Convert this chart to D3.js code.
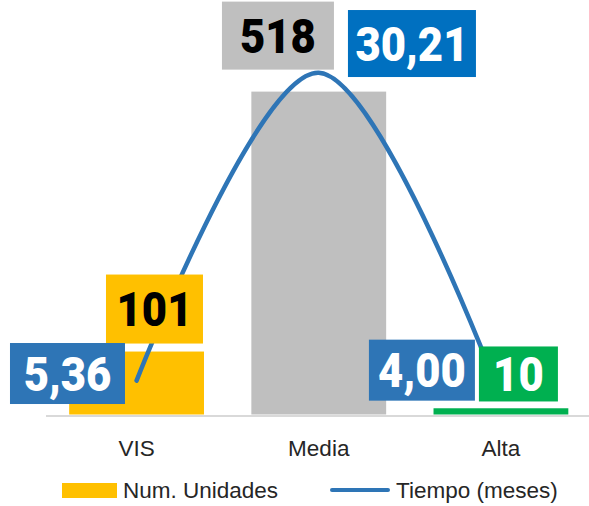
<!DOCTYPE html>
<html>
<head>
<meta charset="utf-8">
<script src="https://cdn.jsdelivr.net/npm/d3@7"></script>
<style>
  html, body { margin: 0; padding: 0; background: #ffffff; }
  svg { display: block; }
</style>
</head>
<body>
<div id="chart"></div>
<script>
// Categories and series values
const categories = ["VIS", "Media", "Alta"];
const unidades = [101, 518, 10];
const tiempo = [5.36, 30.21, 4.00];
const seriesNames = ["Num. Unidades", "Tiempo (meses)"];

// Styling
const barColors = ["#FFC000", "#BFBFBF", "#00B050"];
const lineColor = "#2E75B6";
const unidadesLabelStyle = [
  { fill: "#FFC000", text: "#000000" },
  { fill: "#BFBFBF", text: "#000000" },
  { fill: "#00B050", text: "#FFFFFF" }
];
const tiempoLabelStyle = [
  { fill: "#2E75B6", text: "#FFFFFF" },
  { fill: "#0070C0", text: "#FFFFFF" },
  { fill: "#2E75B6", text: "#FFFFFF" }
];
// Label boxes, placed relative to each mark's anchor point: [dx, dy, width, height]
const unidadesLabelBox = [[-30.6, -77, 97, 69], [-96.8, -90, 112, 68], [-22, -61.8, 79, 55]];
const tiempoLabelBox = [[-126.6, -37.6, 115, 61], [29.2, -62.8, 128, 67], [-132, -57.8, 106, 61]];

const W = 589, H = 506;
const svg = d3.select("#chart").append("svg")
  .attr("width", W).attr("height", H);

const x = d3.scaleBand()
  .domain(categories)
  .range([45.5, 592])
  .paddingInner(0.26)
  .paddingOuter(0.13);

const y = d3.scaleLinear().domain([0, 600]).range([414.5, 40.5]);
const y2 = d3.scaleLinear().domain([0, 35]).range([447, 13.5]);

const esLocale = d3.formatLocale({ decimal: ",", thousands: ".", grouping: [3], currency: ["", " €"] });
const fmtTiempo = esLocale.format(".2f");
const fmtUnidades = esLocale.format("d");

// Bars
svg.append("g").selectAll("rect")
  .data(unidades)
  .join("rect")
  .attr("x", (d, i) => x(categories[i]))
  .attr("y", d => y(d))
  .attr("width", x.bandwidth())
  .attr("height", d => y(0) - y(d))
  .attr("fill", (d, i) => barColors[i]);

// Category axis
const axis = svg.append("g")
  .attr("transform", "translate(0,415.5)")
  .call(d3.axisBottom(x).tickSize(0).tickSizeOuter(0).tickPadding(24.5));
axis.select(".domain").attr("stroke", "#D9D9D9").attr("stroke-width", 2);
axis.selectAll(".tick text")
  .attr("font-family", "'Liberation Sans', Arial, sans-serif")
  .attr("font-size", 22.5)
  .attr("fill", "#262626");

// Smoothed line for Tiempo
const cx = (i) => x(categories[i]) + x.bandwidth() / 2;
const line = d3.line()
  .x((d, i) => cx(i))
  .y(d => y2(d))
  .curve(d3.curveCardinal.tension(0));
svg.append("path")
  .datum(tiempo)
  .attr("d", line)
  .attr("fill", "none")
  .attr("stroke", lineColor)
  .attr("stroke-width", 4.5)
  .attr("stroke-linecap", "round");

// Data labels: filled box with condensed heavy figures centred inside
function drawLabels(values, scale, boxes, styles, fmt) {
  const g = svg.append("g");
  values.forEach((v, i) => {
    const ax = cx(i), ay = scale(v);
    const [dx, dy, w, h] = boxes[i];
    g.append("rect")
      .attr("x", ax + dx).attr("y", ay + dy)
      .attr("width", w).attr("height", h)
      .attr("fill", styles[i].fill);
    g.append("g")
      .attr("transform", `translate(${ax + dx + w / 2},${ay + dy + h / 2 + 17}) scale(0.91,1)`)
      .append("text")
      .attr("text-anchor", "middle")
      .attr("font-family", "Roboto, 'Liberation Sans', sans-serif")
      .attr("font-weight", 900)
      .attr("font-size", 48)
      .attr("fill", styles[i].text)
      .text(fmt(v));
  });
}
drawLabels(unidades, y, unidadesLabelBox, unidadesLabelStyle, fmtUnidades);
drawLabels(tiempo, y2, tiempoLabelBox, tiempoLabelStyle, fmtTiempo);

// Legend
const legend = svg.append("g")
  .attr("font-family", "'Liberation Sans', Arial, sans-serif")
  .attr("font-size", 22.5)
  .attr("fill", "#262626");
legend.append("rect")
  .attr("x", 62).attr("y", 483).attr("width", 55).attr("height", 15)
  .attr("fill", barColors[0]);
legend.append("text").attr("x", 123).attr("y", 497.5).text(seriesNames[0]);
legend.append("line")
  .attr("x1", 332).attr("x2", 388).attr("y1", 490).attr("y2", 490)
  .attr("stroke", lineColor).attr("stroke-width", 4).attr("stroke-linecap", "round");
legend.append("text").attr("x", 396).attr("y", 497.5).text(seriesNames[1]);
</script>
</body>
</html>
